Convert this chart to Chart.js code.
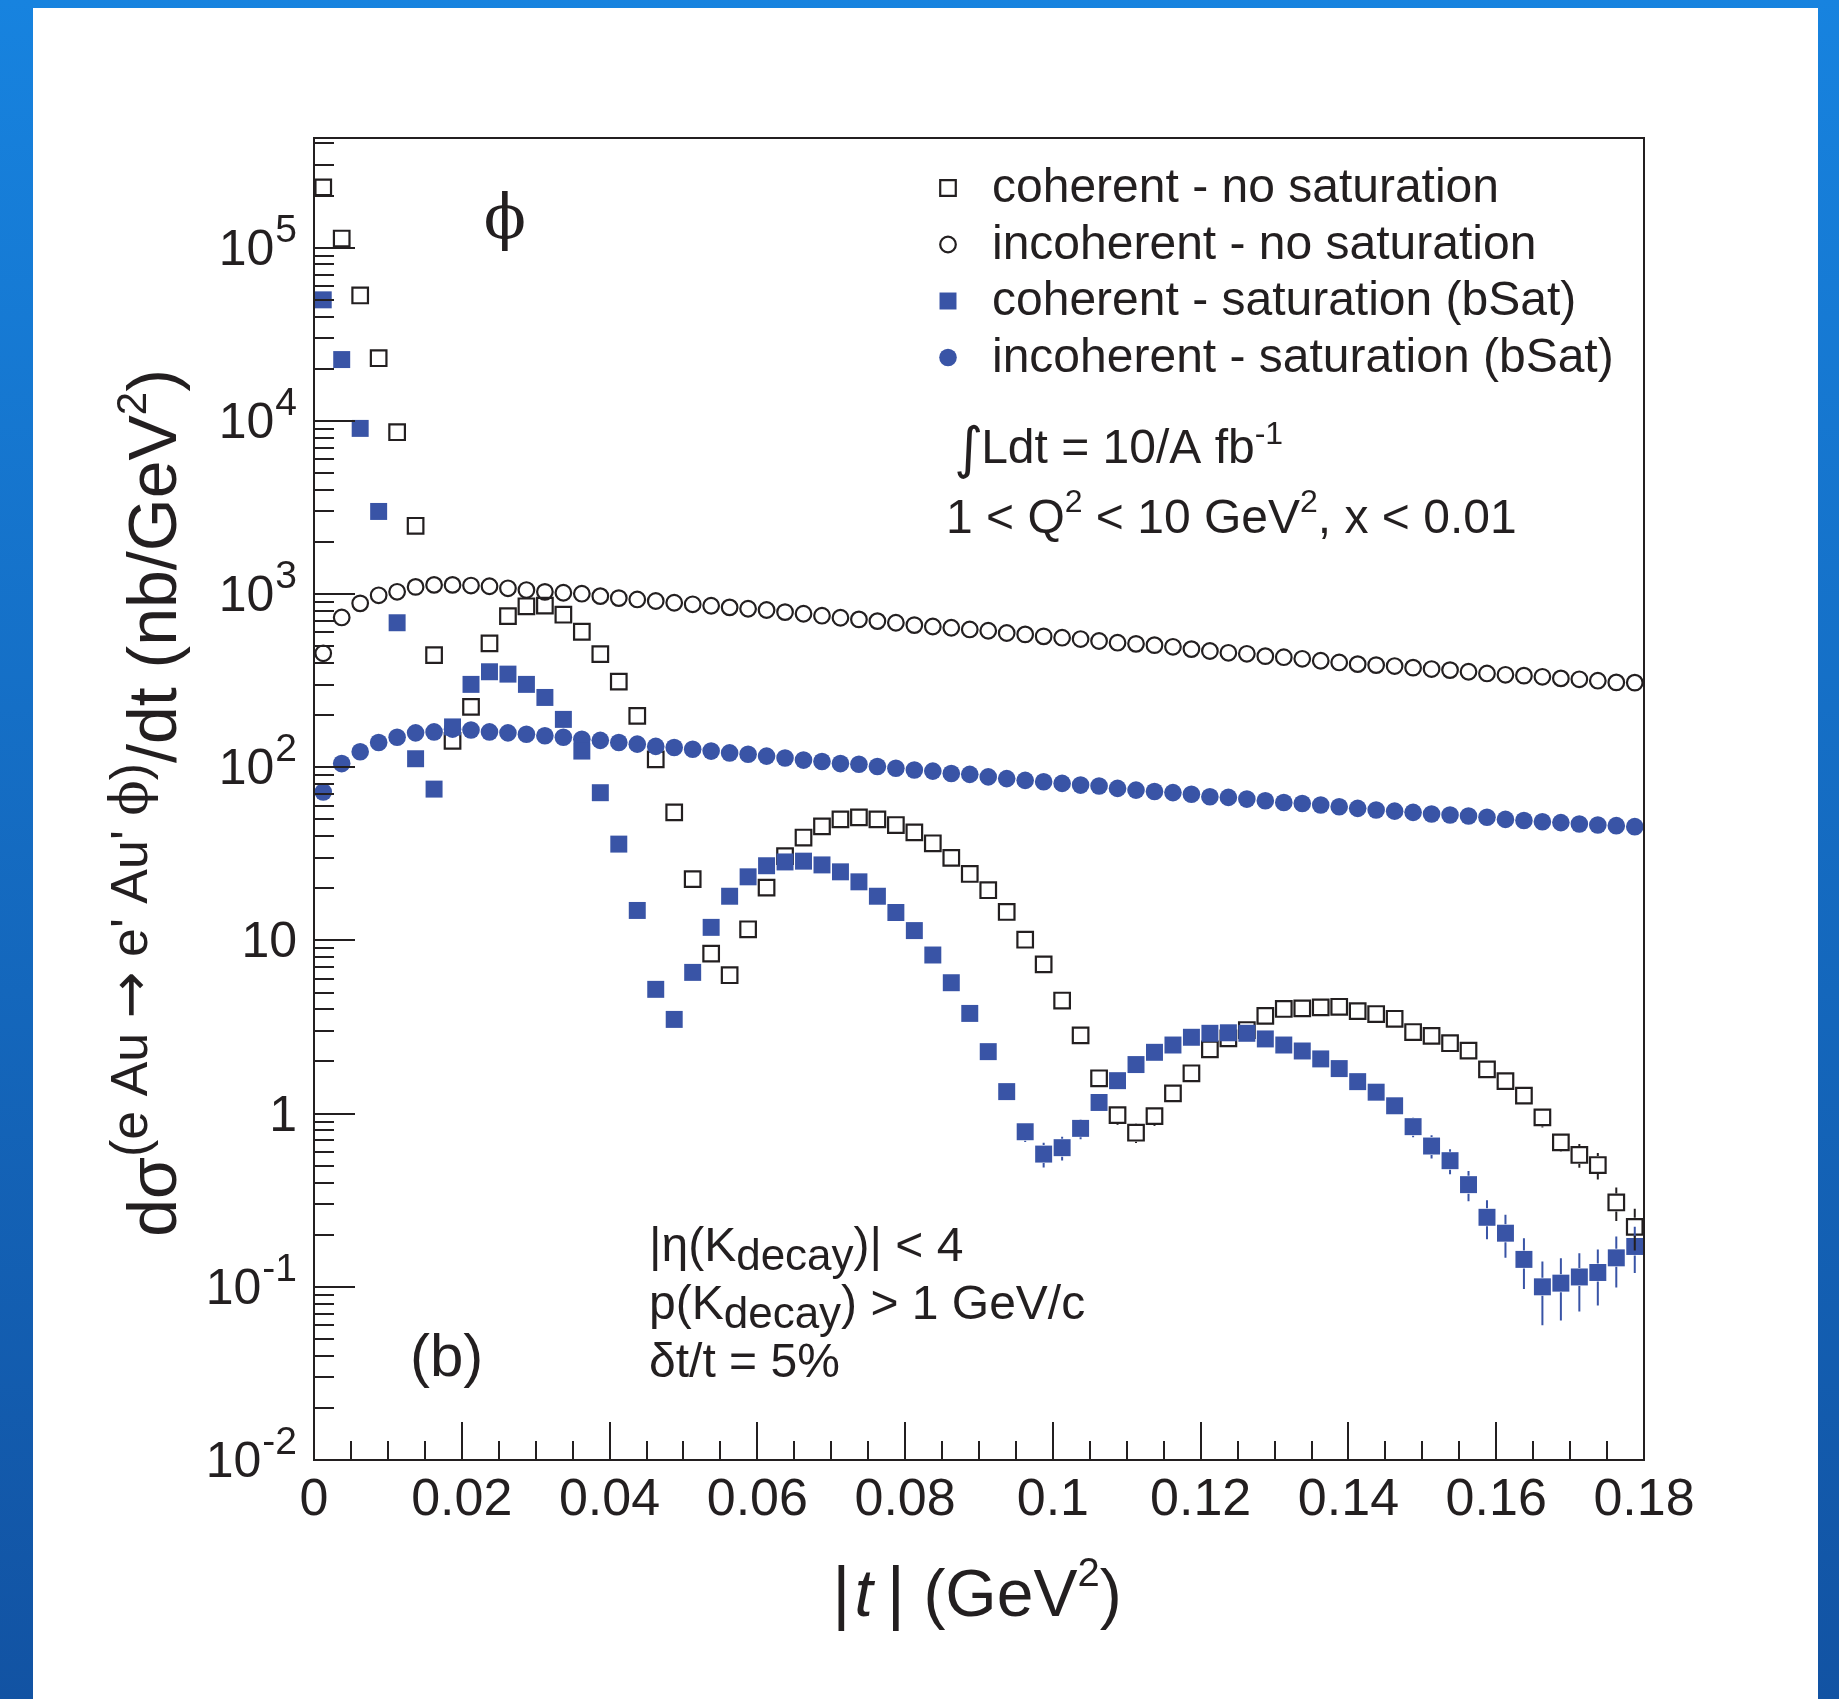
<!DOCTYPE html>
<html>
<head>
<meta charset="utf-8">
<script src="https://cdn.jsdelivr.net/npm/chart.js@4.4.0/dist/chart.umd.min.js"></script>
<style>
    html, body { margin: 0; padding: 0; background: #fff; }
    canvas { display: block; }
</style>
</head>
<body>
<canvas id="grafico" width="1839" height="1699"></canvas>
<script>
// centros de bin en |t| (GeV^2)
const T_BINS = [
    0.00125, 0.00375, 0.00625, 0.00875, 0.01125, 0.01375, 0.01625, 0.01875, 0.02125, 0.02375,
    0.02625, 0.02875, 0.03125, 0.03375, 0.03625, 0.03875, 0.04125, 0.04375, 0.04625, 0.04875,
    0.05125, 0.05375, 0.05625, 0.05875, 0.06125, 0.06375, 0.06625, 0.06875, 0.07125, 0.07375,
    0.07625, 0.07875, 0.08125, 0.08375, 0.08625, 0.08875, 0.09125, 0.09375, 0.09625, 0.09875,
    0.10125, 0.10375, 0.10625, 0.10875, 0.11125, 0.11375, 0.11625, 0.11875, 0.12125, 0.12375,
    0.12625, 0.12875, 0.13125, 0.13375, 0.13625, 0.13875, 0.14125, 0.14375, 0.14625, 0.14875,
    0.15125, 0.15375, 0.15625, 0.15875, 0.16125, 0.16375, 0.16625, 0.16875, 0.17125, 0.17375,
    0.17625, 0.17875,
];

// coherent - no saturation
const COH_NOSAT = [
    2.23e5, 1.13e5, 5.3e4, 2.3e4, 8600, 2480, 444, 142, 223, 519,
    746, 850, 858, 760, 606, 450, 312, 198, 111, 54.9,
    22.6, 8.4, 6.3, 11.6, 20.2, 30.7, 39.3, 45.6, 50, 51.4,
    50, 46.4, 42.1, 36.4, 30, 24.2, 19.5, 14.6, 10.1, 7.28,
    4.5, 2.83, 1.6, 0.98, 0.776, 0.968, 1.31, 1.71, 2.35, 2.72,
    3.04, 3.67, 4.02, 4.05, 4.11, 4.14, 3.91, 3.76, 3.53, 2.96,
    2.81, 2.55, 2.31, 1.8, 1.54, 1.27, 0.952, 0.683, 0.577, 0.505,
    0.307, 0.222,
];
const COH_NOSAT_ERR = [
    0, 0, 0, 0, 0, 0, 0, 0, 0, 0,
    0, 0, 0, 0, 0, 0, 0, 0, 0, 0,
    0, 0, 0, 0, 0, 0, 0, 0, 0, 0,
    0, 0, 0, 0, 0, 0, 0, 0, 0, 0,
    0, 0, 0, 0.12, 0.1, 0.12, 0, 0, 0, 0,
    0, 0, 0, 0, 0, 0, 0, 0, 0, 0,
    0, 0, 0, 0, 0, 0, 0.12, 0.08, 0.09, 0.088,
    0.067, 0.06,
];

// incoherent - no saturation
const INC_NOSAT = [
    455, 733, 884, 984, 1031, 1100, 1130, 1130, 1120, 1110,
    1080, 1055, 1030, 1018, 1005, 973, 948, 931, 912, 891,
    873, 856, 838, 823, 809, 787, 770, 750, 730, 714,
    698, 683, 662, 650, 639, 625, 614, 596, 585, 570,
    560, 550, 536, 524, 516, 507, 496, 481, 469, 458,
    452, 438, 432, 423, 412, 403, 394, 389, 384, 376,
    369, 364, 356, 348, 342, 338, 333, 326, 322, 316,
    309, 308,
];

// coherent - saturation (bSat)
const COH_SAT = [
    5.0e4, 2.26e4, 9050, 3000, 683, 112, 74.8, 171, 301, 356,
    345, 301, 253, 189, 124, 71.3, 36, 14.9, 5.22, 3.5,
    6.54, 11.9, 18, 23.3, 27, 28.4, 28.7, 27.3, 24.9, 21.8,
    18, 14.5, 11.4, 8.24, 5.7, 3.79, 2.28, 1.34, 0.786, 0.584,
    0.636, 0.822, 1.16, 1.55, 1.92, 2.26, 2.49, 2.76, 2.91, 2.93,
    2.91, 2.7, 2.49, 2.3, 2.07, 1.82, 1.53, 1.33, 1.11, 0.841,
    0.65, 0.535, 0.389, 0.252, 0.204, 0.144, 0.1, 0.105, 0.114, 0.121,
    0.147, 0.171,
];
const COH_SAT_ERR = [
    0, 0, 0, 0, 0, 0, 0, 0, 0, 0,
    0, 0, 0, 0, 0, 0, 0, 0, 0, 0,
    0, 0, 0, 0, 0, 0, 0, 0, 0, 0,
    0, 0, 0, 0, 0, 0, 0.12, 0.09, 0.1, 0.095,
    0.1, 0.11, 0.1, 0.1, 0.1, 0.1, 0.1, 0.1, 0.1, 0.1,
    0.1, 0.1, 0.1, 0.1, 0.1, 0.1, 0.1, 0.1, 0.1, 0.11,
    0.1, 0.088, 0.077, 0.064, 0.057, 0.047, 0.04, 0.041, 0.042, 0.043,
    0.048, 0.051,
];

// incoherent - saturation (bSat)
const INC_SAT = [
    72, 105, 123, 139, 149, 158, 160, 166, 164, 160,
    158, 155, 152, 149, 145, 143, 139, 136, 132, 130,
    127, 124, 121, 119, 116, 113, 110, 108, 105, 104,
    101, 98.6, 96.4, 95, 92, 91, 88, 86, 84, 82.5,
    80.7, 78.9, 77.9, 75.5, 73.8, 72.5, 71.4, 69.8, 67.6, 67,
    65.5, 64.1, 62.6, 61.8, 60.5, 59.2, 57.9, 56.6, 55.8, 54.9,
    53.7, 53, 52.3, 51.4, 50, 49.3, 48.5, 47.9, 47, 46.4,
    46, 45.4,
];

const X_TICKS = [0, 0.02, 0.04, 0.06, 0.08, 0.1, 0.12, 0.14, 0.16, 0.18];
const X_TICK_LABELS = ["0", "0.02", "0.04", "0.06", "0.08", "0.1", "0.12", "0.14", "0.16", "0.18"];
const Y_TICKS = [0.01, 0.1, 1, 10, 100, 1000, 1e4, 1e5];
const Y_TICK_LABELS = [["10", "-2"], ["10", "-1"], ["1", ""], ["10", ""], ["10", "2"], ["10", "3"], ["10", "4"], ["10", "5"]];

const LEYENDA = [
    "coherent - no saturation",
    "incoherent - no saturation",
    "coherent - saturation (bSat)",
    "incoherent - saturation (bSat)",
];

const NEGRO = "#231f20";
const AZUL = "#3954a6";
const FUENTE = "'Liberation Sans', Arial, sans-serif";
const SERIF = "'DejaVu Serif', 'Liberation Serif', serif";

function puntos(valores) {
    return T_BINS.map((t, i) => ({ x: t, y: valores[i] }));
}

function textoRico(ctx, partes, x, y, medir) {
    let cx = x;
    partes.forEach((p) => {
        cx += p.sep || 0;
        ctx.font = (p.estilo || "") + " " + p.tam + "px " + (p.fam || FUENTE);
        if (!medir) ctx.fillText(p.t, cx, y + (p.dy || 0));
        cx += ctx.measureText(p.t).width;
    });
    return cx - x;
}

const fondo = {
    id: "fondo",
    beforeDraw(chart) {
        const ctx = chart.ctx;
        const g = ctx.createLinearGradient(0, 0, 0, chart.height);
        g.addColorStop(0, "#1783df");
        g.addColorStop(1, "#1253a3");
        ctx.save();
        ctx.fillStyle = g;
        ctx.fillRect(0, 0, chart.width, chart.height);
        ctx.fillStyle = "#fff";
        ctx.fillRect(33, 8, 1785, 1691);
        ctx.restore();
    },
};

const barrasError = {
    id: "barrasError",
    afterDatasetsDraw(chart) {
        const { ctx, scales: { x, y } } = chart;
        ctx.save();
        ctx.lineWidth = 2;
        chart.data.datasets.forEach((ds) => {
            if (!ds.err) return;
            ctx.strokeStyle = ds.borderWidth ? ds.borderColor : ds.backgroundColor;
            ds.data.forEach((p, i) => {
                const e = ds.err[i];
                if (!e) return;
                const px = x.getPixelForValue(p.x);
                const yc = y.getPixelForValue(p.y);
                const yArr = y.getPixelForValue(p.y + e);
                const yAb = y.getPixelForValue(p.y - e);
                const m = 9;
                ctx.beginPath();
                if (yc - yArr > m) { ctx.moveTo(px, yc - m); ctx.lineTo(px, yArr); }
                if (yAb - yc > m) { ctx.moveTo(px, yc + m); ctx.lineTo(px, yAb); }
                ctx.stroke();
            });
        });
        ctx.restore();
    },
};

const ejes = {
    id: "ejes",
    afterDraw(chart) {
        const { ctx, chartArea: a, scales: { x, y } } = chart;
        ctx.save();
        ctx.strokeStyle = NEGRO;
        ctx.fillStyle = NEGRO;
        ctx.lineWidth = 2;
        ctx.strokeRect(a.left, a.top, a.right - a.left, a.bottom - a.top);

        // ticks x: mayores cada 0.02, menores cada 0.005
        ctx.beginPath();
        for (let i = 0; i <= 36; i++) {
            const px = Math.round(x.getPixelForValue(i * 0.005));
            const largo = i % 4 === 0 ? 38 : 19;
            ctx.moveTo(px, a.bottom);
            ctx.lineTo(px, a.bottom - largo);
        }
        // ticks y logaritmicos
        for (let e = -2; e <= 5; e++) {
            for (let m = 1; m <= 9; m++) {
                const v = m * Math.pow(10, e);
                if (v > y.max) break;
                const py = Math.round(y.getPixelForValue(v));
                ctx.moveTo(a.left, py);
                ctx.lineTo(a.left + (m === 1 ? 41 : 20), py);
            }
        }
        ctx.stroke();

        // etiquetas x
        ctx.textAlign = "center";
        ctx.textBaseline = "alphabetic";
        ctx.font = "52px " + FUENTE;
        X_TICKS.forEach((v, i) => ctx.fillText(X_TICK_LABELS[i], x.getPixelForValue(v), 1515));

        // etiquetas y
        ctx.textAlign = "right";
        Y_TICKS.forEach((v, i) => {
            const py = y.getPixelForValue(v);
            const [base, exp] = Y_TICK_LABELS[i];
            let der = 297;
            if (exp) {
                ctx.font = "39px " + FUENTE;
                ctx.fillText(exp, der, py - 6);
                der -= ctx.measureText(exp).width + 1;
            }
            ctx.font = "50px " + FUENTE;
            ctx.fillText(base, der, py + 17);
        });

        // titulo x
        ctx.textAlign = "left";
        const tituloX = [
            { t: "|", tam: 70 },
            { t: "t", tam: 66, estilo: "italic", sep: 4 },
            { t: "|", tam: 70, sep: 14 },
            { t: " (GeV", tam: 66 },
            { t: "2", tam: 40, dy: -30 },
            { t: ")", tam: 66 },
        ];
        const anchoX = textoRico(ctx, tituloX, 0, 0, true);
        textoRico(ctx, tituloX, 977 - anchoX / 2, 1616);

        // titulo y
        const tituloY = [
            { t: "dσ", tam: 68 },
            { t: "(e Au ", tam: 52, dy: -29 },
            { t: "→", tam: 56, dy: -27, fam: "'DejaVu Sans', sans-serif" },
            { t: " e' Au' ", tam: 52, dy: -29 },
            { t: "ϕ", tam: 52, dy: -29, fam: SERIF },
            { t: ")", tam: 52, dy: -29 },
            { t: "/dt (nb/GeV", tam: 68 },
            { t: "2", tam: 42, dy: -30 },
            { t: ")", tam: 68 },
        ];
        const anchoY = textoRico(ctx, tituloY, 0, 0, true);
        ctx.save();
        ctx.translate(176, 803);
        ctx.rotate(-Math.PI / 2);
        textoRico(ctx, tituloY, -anchoY / 2, 0);
        ctx.restore();

        // leyenda
        const estilos = [
            { pointStyle: "rect", radius: 11, relleno: "rgba(0,0,0,0)", borde: 2.2 },
            { pointStyle: "circle", radius: 7.8, relleno: "rgba(0,0,0,0)", borde: 2.2 },
            { pointStyle: "rect", radius: 12, relleno: AZUL, borde: 0 },
            { pointStyle: "circle", radius: 8.8, relleno: AZUL, borde: 0 },
        ];
        LEYENDA.forEach((txt, i) => {
            const base = 202 + 56.5 * i;
            const s = estilos[i];
            ctx.fillStyle = s.relleno;
            ctx.strokeStyle = NEGRO;
            ctx.lineWidth = s.borde;
            Chart.helpers.drawPoint(ctx, { pointStyle: s.pointStyle, radius: s.radius, borderWidth: s.borde, rotation: 0 }, 948, base - 14);
            ctx.fillStyle = NEGRO;
            ctx.font = "48px " + FUENTE;
            ctx.fillText(txt, 992, base);
        });

        // anotaciones
        textoRico(ctx, [
            { t: "∫", tam: 56, fam: "'DejaVu Sans', sans-serif", dy: 4 },
            { t: "Ldt = 10/A fb", tam: 48, sep: -2 },
            { t: "-1", tam: 32, dy: -19 },
        ], 954, 463);
        textoRico(ctx, [
            { t: "1 < Q", tam: 48 }, { t: "2", tam: 32, dy: -21 },
            { t: " < 10 GeV", tam: 48 }, { t: "2", tam: 32, dy: -21 },
            { t: ", x < 0.01", tam: 48 },
        ], 946, 533);
        textoRico(ctx, [{ t: "|η(K", tam: 48 }, { t: "decay", tam: 44, dy: 9 }, { t: ")| < 4", tam: 48 }], 649, 1261);
        textoRico(ctx, [{ t: "p(K", tam: 48 }, { t: "decay", tam: 44, dy: 9 }, { t: ") > 1 GeV/c", tam: 48 }], 649, 1319);
        textoRico(ctx, [{ t: "δt/t = 5%", tam: 48 }], 649, 1377);
        textoRico(ctx, [{ t: "(b)", tam: 60 }], 410, 1376);

        ctx.textAlign = "center";
        ctx.font = "62px " + SERIF;
        ctx.fillText("ϕ", 505, 238);
        ctx.restore();
    },
};

new Chart(document.getElementById("grafico"), {
    type: "scatter",
    data: {
        datasets: [
            { label: LEYENDA[2], data: puntos(COH_SAT), err: COH_SAT_ERR, pointStyle: "rect", pointRadius: 12,
              backgroundColor: AZUL, borderColor: AZUL, borderWidth: 0 },
            { label: LEYENDA[3], data: puntos(INC_SAT), pointStyle: "circle", pointRadius: 8.8,
              backgroundColor: AZUL, borderColor: AZUL, borderWidth: 0 },
            { label: LEYENDA[0], data: puntos(COH_NOSAT), err: COH_NOSAT_ERR, pointStyle: "rect", pointRadius: 11,
              backgroundColor: "rgba(0,0,0,0)", borderColor: NEGRO, borderWidth: 2.2 },
            { label: LEYENDA[1], data: puntos(INC_NOSAT), pointStyle: "circle", pointRadius: 7.8,
              backgroundColor: "rgba(0,0,0,0)", borderColor: NEGRO, borderWidth: 2.2 },
        ],
    },
    options: {
        responsive: false,
        animation: false,
        devicePixelRatio: 1,
        events: [],
        layout: { padding: { left: 314, top: 138, right: 195, bottom: 239 } },
        plugins: { legend: { display: false }, tooltip: { enabled: false } },
        scales: {
            x: { type: "linear", min: 0, max: 0.18, display: false },
            y: { type: "logarithmic", min: 0.01, max: 4.3e5, display: false },
        },
    },
    plugins: [fondo, barrasError, ejes],
});
</script>
</body>
</html>
